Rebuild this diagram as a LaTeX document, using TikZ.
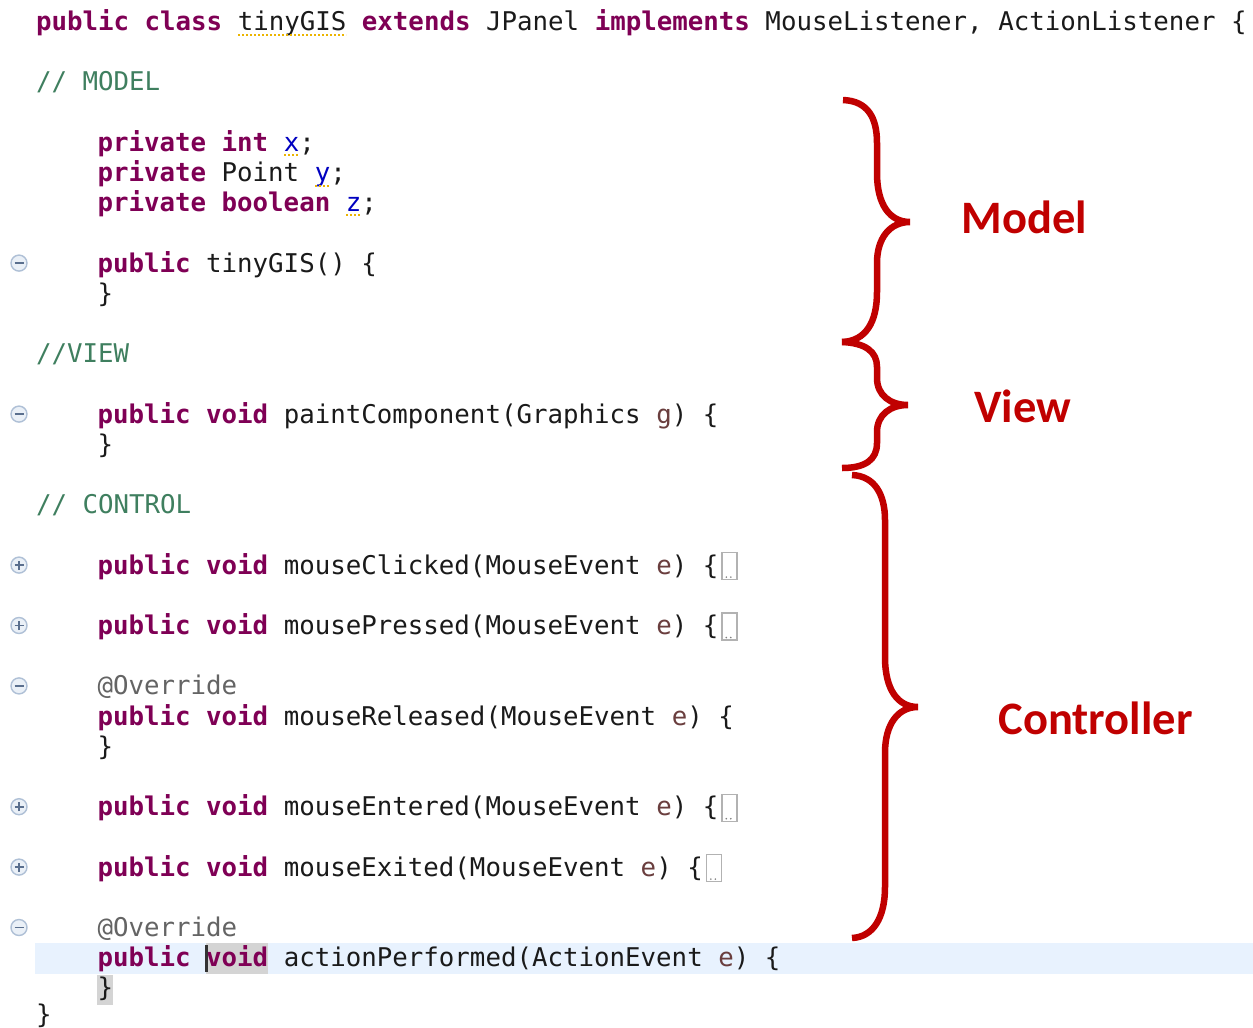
\documentclass[tikz,border=0pt]{standalone}
\usepackage{fontspec}
\newfontfamily\codefont{DejaVu Sans Mono}
\newfontfamily\notefont{Carlito}
\definecolor{jkeyword}{HTML}{7F0055}
\definecolor{jcomment}{HTML}{3F7F5F}
\definecolor{jfield}{HTML}{0000C0}
\definecolor{jparam}{HTML}{6A3E3E}
\definecolor{jannot}{HTML}{646464}
\definecolor{jtext}{HTML}{1A1A1A}
\definecolor{bracered}{HTML}{C00000}
\definecolor{curline}{HTML}{E8F2FE}
\definecolor{occur}{HTML}{D4D4D4}
\definecolor{warnline}{HTML}{EBB400}
\definecolor{foldring}{HTML}{AFC0D6}
\definecolor{foldfill}{HTML}{EAF0F7}
\definecolor{foldsign}{HTML}{5A6F8E}
\newcommand\jk[1]{\textcolor{jkeyword}{\bfseries #1}}
\newcommand\jc[1]{\textcolor{jcomment}{#1}}
\newcommand\jf[1]{\textcolor{jfield}{#1}}
\newcommand\jp[1]{\textcolor{jparam}{#1}}
\newcommand\ja[1]{\textcolor{jannot}{#1}}
\tikzset{
  code/.style={anchor=base west, inner sep=0pt, outer sep=0pt, text=jtext,
    font=\codefont\fontsize{25.78}{30}\selectfont},
  mvclabel/.style={anchor=base, inner sep=0pt, text=bracered,
    font=\notefont\bfseries\fontsize{46.5}{50}\selectfont},
  mvcbrace/.style={draw=bracered, line width=6.5pt},
  foldicon/.style={circle, minimum size=16pt, inner sep=0pt, draw=foldring,
    fill=foldfill, line width=1.4pt},
  foldstroke/.style={draw=foldsign, line width=1.8pt},
  foldbox/.style={draw=gray!60, line width=1.2pt, minimum width=15pt,
    minimum height=27pt, inner sep=0pt, anchor=south west},
  squiggle/.style={draw=warnline, line width=2pt, dash pattern=on 2pt off 2pt}
}
\begin{document}
\begin{tikzpicture}[x=1pt,y=-1pt]
\useasboundingbox (0,0) rectangle (1253,1028);
\fill[white] (0,0) rectangle (1253,1028);

% current line and the selected word
\fill[curline] (35,943) rectangle (1253,974);
\fill[occur] (205.5,943) rectangle (267.5,974);
\fill[occur] (97,975) rectangle (113,1005);

% source lines
\node[code] (decl) at (36,30.5) {\jk{public} \jk{class} tinyGIS \jk{extends} JPanel \jk{implements} MouseListener, ActionListener \{};
\node[code] (cmodel) at (36,90.9) {\jc{// MODEL}};
\node[code] (fx) at (97.5,151.3) {\jk{private} \jk{int} \jf{x};};
\node[code] (fy) at (97.5,181.5) {\jk{private} Point \jf{y};};
\node[code] (fz) at (97.5,211.7) {\jk{private} \jk{boolean} \jf{z};};
\node[code] (ctor) at (97.5,272.1) {\jk{public} tinyGIS() \{};
\node[code] (ctorend) at (97.5,302.3) {\}};
\node[code] (cview) at (36,362.7) {\jc{//VIEW}};
\node[code] (paint) at (97.5,423.1) {\jk{public} \jk{void} paintComponent(Graphics \jp{g}) \{};
\node[code] (paintend) at (97.5,453.3) {\}};
\node[code] (ccontrol) at (36,513.7) {\jc{// CONTROL}};
\node[code] (clicked) at (97.5,574.1) {\jk{public} \jk{void} mouseClicked(MouseEvent \jp{e}) \{};
\node[code] (pressed) at (97.5,634.5) {\jk{public} \jk{void} mousePressed(MouseEvent \jp{e}) \{};
\node[code] (ovr1) at (97.5,694.9) {\ja{@Override}};
\node[code] (released) at (97.5,725.1) {\jk{public} \jk{void} mouseReleased(MouseEvent \jp{e}) \{};
\node[code] (relend) at (97.5,755.3) {\}};
\node[code] (entered) at (97.5,815.7) {\jk{public} \jk{void} mouseEntered(MouseEvent \jp{e}) \{};
\node[code] (exited) at (97.5,876.1) {\jk{public} \jk{void} mouseExited(MouseEvent \jp{e}) \{};
\node[code] (ovr2) at (97.5,936.5) {\ja{@Override}};
\node[code] (action) at (97.5,966.7) {\jk{public} \jk{void} actionPerformed(ActionEvent \jp{e}) \{};
\node[code] (actend) at (97.5,996.9) {\}};
\node[code] (classend) at (36,1023.5) {\}};

% text cursor
\draw[line width=2.5pt, draw=black!80] (206.5,945) -- (206.5,972);

% warning underlines
\draw[squiggle] (238,34.5) -- (346,34.5);
\draw[squiggle] (284,155) -- (299,155);
\draw[squiggle] (315,185.5) -- (330,185.5);
\draw[squiggle] (346,215) -- (361,215);

% folded bodies
\foreach \ln in {clicked,pressed,entered,exited}{
  \node[foldbox] (box-\ln) at ([xshift=3pt,yshift=-6pt]\ln.base east) {};
  \fill[gray] ([xshift=5pt,yshift=3pt]box-\ln.south west) circle (0.9pt);
  \fill[gray] ([xshift=9.5pt,yshift=3pt]box-\ln.south west) circle (0.9pt);
}

% folding markers in the gutter
\foreach \nm/\yy in {ctor/263.1,paint/414.1,ovr1/685.9,ovr2/927.5}{
  \node[foldicon] (fold-\nm) at (19,\yy) {};
  \draw[foldstroke] ([xshift=-4.5pt]fold-\nm.center) -- ([xshift=4.5pt]fold-\nm.center);
}
\foreach \nm/\yy in {clicked/565.1,pressed/625.5,entered/806.7,exited/867.1}{
  \node[foldicon] (fold-\nm) at (19,\yy) {};
  \draw[foldstroke] ([xshift=-4.5pt]fold-\nm.center) -- ([xshift=4.5pt]fold-\nm.center);
  \draw[foldstroke] ([yshift=-4.5pt]fold-\nm.center) -- ([yshift=4.5pt]fold-\nm.center);
}

% braces
\coordinate (mT) at (843,100);
\coordinate (mTip) at (910,222);
\coordinate (mB) at (842,342);
\draw[mvcbrace] (mT) .. controls (868,101) and (877,118) .. (877,143) -- (877,173)
  .. controls (877,205) and (890,222) .. (mTip)
  .. controls (890,222) and (877,238) .. (877,263) -- (877,292)
  .. controls (877,322) and (866,341) .. (mB);

\coordinate (vT) at (842,342);
\coordinate (vTip) at (908,405);
\coordinate (vB) at (842,468);
\draw[mvcbrace] (vT) .. controls (866,343) and (877,352) .. (877,367) -- (877,378)
  .. controls (877,395) and (890,405) .. (vTip)
  .. controls (890,405) and (877,415) .. (877,432) -- (877,443)
  .. controls (877,460) and (865,468) .. (vB);

\coordinate (cT) at (852,475);
\coordinate (cTip) at (918,707);
\coordinate (cB) at (852,938);
\draw[mvcbrace] (cT) .. controls (875,476) and (885,495) .. (885,520) -- (885,657)
  .. controls (885,690) and (898,707) .. (cTip)
  .. controls (898,707) and (885,724) .. (885,753) -- (885,887)
  .. controls (885,918) and (873,937) .. (cB);

% labels
\node[mvclabel] (lmodel) at (1024.5,233) {Model};
\node[mvclabel] (lview) at (1022.5,422) {View};
\node[mvclabel] (lctrl) at (1095.5,734) {Controller};
\end{tikzpicture}
\end{document}
